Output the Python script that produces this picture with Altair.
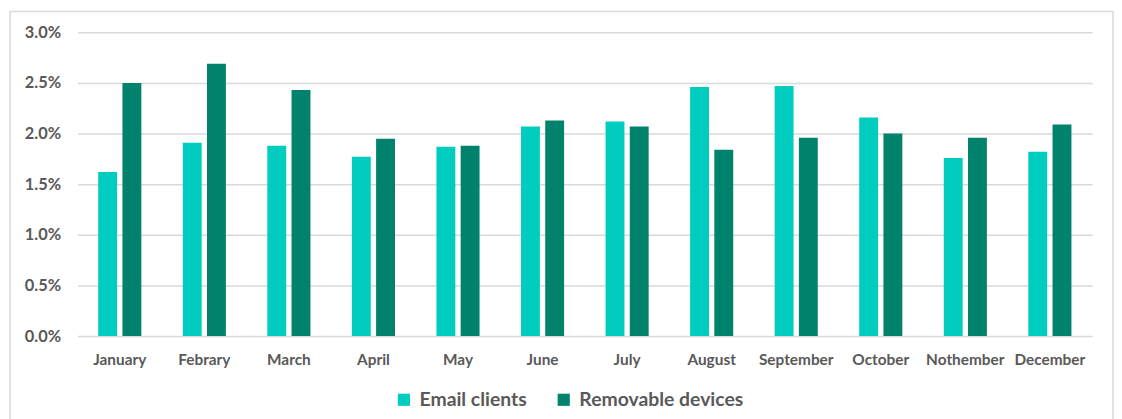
import altair as alt
import pandas as pd

months = ["January", "Febrary", "March", "April", "May", "June", "July",
          "August", "September", "October", "Nothember", "December"]
email_clients = [1.62, 1.91, 1.88, 1.77, 1.87, 2.07, 2.12, 2.46, 2.47, 2.16, 1.76, 1.82]
removable_devices = [2.50, 2.69, 2.43, 1.95, 1.88, 2.13, 2.07, 1.84, 1.96, 2.00, 1.96, 2.09]
series = ["Email clients", "Removable devices"]
colors = ["#00CCC0", "#00826D"]

rows = []
for i, m in enumerate(months):
    rows.append({"month": m, "series": series[0], "value": email_clients[i] / 100})
    rows.append({"month": m, "series": series[1], "value": removable_devices[i] / 100})
df = pd.DataFrame(rows)

W, H = 1022, 306
FONT = "Lato"

bars = alt.Chart(df).mark_bar().encode(
    x=alt.X("month:N", sort=months, title=None,
            scale=alt.Scale(paddingInner=0.49, paddingOuter=0.245),
            axis=alt.Axis(labelAngle=0, labelFontSize=15.5, labelFontWeight="bold",
                          labelColor="#595959", labelFont=FONT, ticks=False,
                          domain=False, labelPadding=17)),
    xOffset=alt.XOffset("series:N", sort=series,
                        scale=alt.Scale(paddingInner=0.22)),
    y=alt.Y("value:Q", title=None,
            scale=alt.Scale(domain=[0, 0.03]),
            axis=alt.Axis(format=".1%", values=[0, 0.005, 0.01, 0.015, 0.02, 0.025, 0.03],
                          labelFontSize=16.5, labelFontWeight="bold", labelColor="#595959",
                          labelFont=FONT, ticks=False, domain=False, labelPadding=17,
                          gridColor="#D9D9D9", gridWidth=1.5)),
    color=alt.Color("series:N", sort=series,
                    scale=alt.Scale(domain=series, range=colors),
                    legend=alt.Legend(title=None, orient="none", direction="horizontal",
                                      legendX=319, legendY=360, symbolType="square",
                                      symbolSize=150, symbolStrokeWidth=0,
                                      labelFontSize=19.5, labelFont=FONT,
                                      labelFontWeight="bold", labelColor="#595959",
                                      labelLimit=400,
                                      columnPadding=27, labelOffset=6)),
)

border = alt.Chart(pd.DataFrame({"a": [0]})).mark_rect(
    fill=None, stroke="#D9D9D9", strokeWidth=1.5
).encode(
    x=alt.value(-68), x2=alt.value(W + 21),
    y=alt.value(-21), y2=alt.value(H + 120),
)

chart = alt.layer(bars, border).properties(
    width=W, height=H,
    padding={"left": 70, "top": 23, "right": 22, "bottom": 82},
    autosize=alt.AutoSizeParams(type="none"),
    background="white",
).configure_view(stroke=None)

chart.save("out.html", embed_options={"renderer": "svg", "actions": False})
